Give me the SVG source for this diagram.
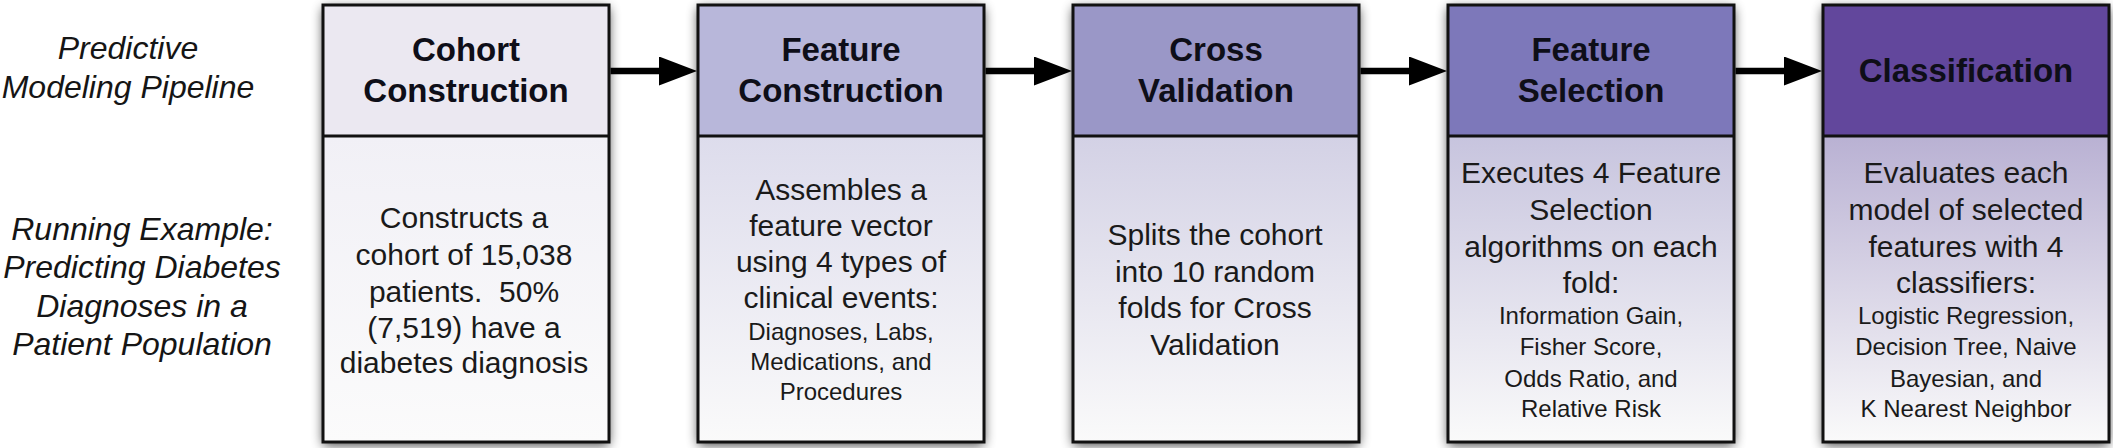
<svg xmlns="http://www.w3.org/2000/svg" width="2113" height="448" viewBox="0 0 2113 448">
<defs>
<style>
.lbl{font-family:"Liberation Sans",Arial,sans-serif;font-style:italic;font-size:32px;fill:#151515;text-anchor:middle}
.hd{font-family:"Liberation Sans",Arial,sans-serif;font-weight:bold;font-size:33px;fill:#0e0e18;text-anchor:middle}
.bd{font-family:"Liberation Sans",Arial,sans-serif;font-size:30px;fill:#1a1a1a;text-anchor:middle}
.sm{font-family:"Liberation Sans",Arial,sans-serif;font-size:24px;fill:#1a1a1a;text-anchor:middle}
.frame{fill:none;stroke:#111;stroke-width:3}
.div{stroke:#111;stroke-width:3}
.shadow{fill:#000;filter:url(#sh)}
.conn{stroke:#000;stroke-width:6.5;fill:none;marker-end:url(#ah)}
</style>
<filter id="sh" x="-20%" y="-10%" width="140%" height="125%">
<feGaussianBlur in="SourceAlpha" stdDeviation="6"/>
<feOffset dy="3"/>
<feComponentTransfer><feFuncA type="linear" slope="0.75"/></feComponentTransfer>
</filter>
<marker id="ah" markerUnits="userSpaceOnUse" markerWidth="38" markerHeight="29" refX="0" refY="14.5" orient="auto">
<path d="M0,0 L38,14.5 L0,29 z" fill="#000"/>
</marker>
<linearGradient id="g1" x1="0" y1="0" x2="0" y2="1"><stop offset="0" stop-color="#f1f0f6"/><stop offset="1" stop-color="#fbfbfb"/></linearGradient>
<linearGradient id="g2" x1="0" y1="0" x2="0" y2="1"><stop offset="0" stop-color="#dddcec"/><stop offset="1" stop-color="#fafafa"/></linearGradient>
<linearGradient id="g3" x1="0" y1="0" x2="0" y2="1"><stop offset="0" stop-color="#d3d1e5"/><stop offset="1" stop-color="#fafafa"/></linearGradient>
<linearGradient id="g4" x1="0" y1="0" x2="0" y2="1"><stop offset="0" stop-color="#c7c4de"/><stop offset="1" stop-color="#fafafa"/></linearGradient>
<linearGradient id="g5" x1="0" y1="0" x2="0" y2="1"><stop offset="0" stop-color="#b9b1d3"/><stop offset="1" stop-color="#fafafa"/></linearGradient>
</defs>
<rect width="2113" height="448" fill="#fff"/>

<g id="labels">
<text class="lbl" x="128" y="59">Predictive</text>
<text class="lbl" x="128" y="98">Modeling Pipeline</text>
<text class="lbl" x="142" y="240">Running Example:</text>
<text class="lbl" x="142" y="278">Predicting Diabetes</text>
<text class="lbl" x="142" y="317">Diagnoses in a</text>
<text class="lbl" x="142" y="355">Patient Population</text>
</g>

<g id="node-cohort">
<rect class="shadow" x="323" y="5" width="286" height="437"/>
<rect x="323" y="5" width="286" height="131" fill="#ebe8f1"/>
<rect x="323" y="136" width="286" height="306" fill="url(#g1)"/>
<line class="div" x1="323" y1="136" x2="609" y2="136"/>
<rect class="frame" x="323" y="5" width="286" height="437"/>
<text class="hd" x="466" y="61">Cohort</text>
<text class="hd" x="466" y="102">Construction</text>
<text class="bd" x="464" y="228">Constructs a</text>
<text class="bd" x="464" y="265">cohort of 15,038</text>
<text class="bd" x="464" y="302">patients.&#160; 50%</text>
<text class="bd" x="464" y="338">(7,519) have a</text>
<text class="bd" x="464" y="373">diabetes diagnosis</text>
</g>

<g id="node-feature-construction">
<rect class="shadow" x="698" y="5" width="286" height="437"/>
<rect x="698" y="5" width="286" height="131" fill="#b8b7da"/>
<rect x="698" y="136" width="286" height="306" fill="url(#g2)"/>
<line class="div" x1="698" y1="136" x2="984" y2="136"/>
<rect class="frame" x="698" y="5" width="286" height="437"/>
<text class="hd" x="841" y="61">Feature</text>
<text class="hd" x="841" y="102">Construction</text>
<text class="bd" x="841" y="200">Assembles a</text>
<text class="bd" x="841" y="236">feature vector</text>
<text class="bd" x="841" y="272">using 4 types of</text>
<text class="bd" x="841" y="308">clinical events:</text>
<text class="sm" x="841" y="340">Diagnoses, Labs,</text>
<text class="sm" x="841" y="370">Medications, and</text>
<text class="sm" x="841" y="400">Procedures</text>
</g>

<g id="node-cross-validation">
<rect class="shadow" x="1073" y="5" width="286" height="437"/>
<rect x="1073" y="5" width="286" height="131" fill="#9a97c7"/>
<rect x="1073" y="136" width="286" height="306" fill="url(#g3)"/>
<line class="div" x1="1073" y1="136" x2="1359" y2="136"/>
<rect class="frame" x="1073" y="5" width="286" height="437"/>
<text class="hd" x="1216" y="61">Cross</text>
<text class="hd" x="1216" y="102">Validation</text>
<text class="bd" x="1215" y="245">Splits the cohort</text>
<text class="bd" x="1215" y="282">into 10 random</text>
<text class="bd" x="1215" y="318">folds for Cross</text>
<text class="bd" x="1215" y="355">Validation</text>
</g>

<g id="node-feature-selection">
<rect class="shadow" x="1448" y="5" width="286" height="437"/>
<rect x="1448" y="5" width="286" height="131" fill="#7d78ba"/>
<rect x="1448" y="136" width="286" height="306" fill="url(#g4)"/>
<line class="div" x1="1448" y1="136" x2="1734" y2="136"/>
<rect class="frame" x="1448" y="5" width="286" height="437"/>
<text class="hd" x="1591" y="61">Feature</text>
<text class="hd" x="1591" y="102">Selection</text>
<text class="bd" x="1591" y="183">Executes 4 Feature</text>
<text class="bd" x="1591" y="220">Selection</text>
<text class="bd" x="1591" y="257">algorithms on each</text>
<text class="bd" x="1591" y="293">fold:</text>
<text class="sm" x="1591" y="324">Information Gain,</text>
<text class="sm" x="1591" y="355">Fisher Score,</text>
<text class="sm" x="1591" y="387">Odds Ratio, and</text>
<text class="sm" x="1591" y="417">Relative Risk</text>
</g>

<g id="node-classification">
<rect class="shadow" x="1823" y="5" width="286" height="437"/>
<rect x="1823" y="5" width="286" height="131" fill="#62479c"/>
<rect x="1823" y="136" width="286" height="306" fill="url(#g5)"/>
<line class="div" x1="1823" y1="136" x2="2109" y2="136"/>
<rect class="frame" x="1823" y="5" width="286" height="437"/>
<text class="hd" x="1966" y="82">Classification</text>
<text class="bd" x="1966" y="183">Evaluates each</text>
<text class="bd" x="1966" y="220">model of selected</text>
<text class="bd" x="1966" y="257">features with 4</text>
<text class="bd" x="1966" y="293">classifiers:</text>
<text class="sm" x="1966" y="324">Logistic Regression,</text>
<text class="sm" x="1966" y="355">Decision Tree, Naive</text>
<text class="sm" x="1966" y="387">Bayesian, and</text>
<text class="sm" x="1966" y="417">K Nearest Neighbor</text>
</g>

<g id="connectors">
<path class="conn" d="M610.5,71 H659"/>
<path class="conn" d="M985.5,71 H1034"/>
<path class="conn" d="M1360.5,71 H1409"/>
<path class="conn" d="M1735.5,71 H1784"/>
</g>
</svg>
